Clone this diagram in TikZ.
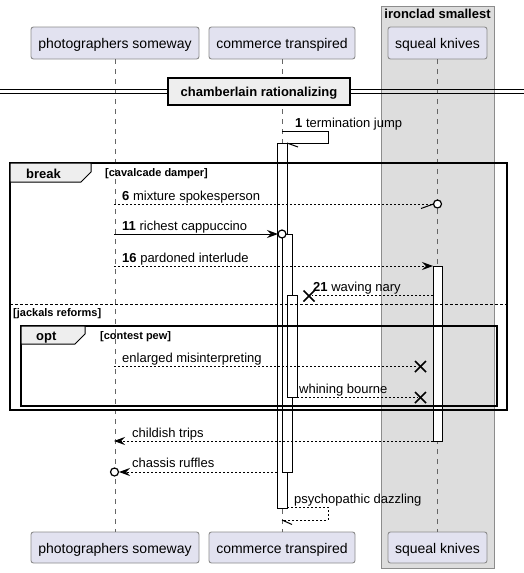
\documentclass[tikz,border=0pt]{standalone}
\usepackage{fontspec}
\setmainfont{Liberation Sans}
\usetikzlibrary{arrows.meta}
\definecolor{partfill}{HTML}{E2E2F0}
\definecolor{partdraw}{HTML}{8C8C8C}
\definecolor{boxfill}{HTML}{DDDDDD}
\definecolor{boxdraw}{HTML}{8C8C8C}
\definecolor{tabfill}{HTML}{EEEEEE}
\begin{document}
\begin{tikzpicture}[x=1pt,y=-1pt,
  part/.style={draw=partdraw, fill=partfill, rounded corners=2.5pt, line width=0.9pt, font=\fontsize{14}{16}\selectfont, inner sep=0pt, text height=12pt, text depth=1pt},
  life/.style={draw=black!60, line width=0.8pt, dash pattern=on 5pt off 5pt},
  act/.style={draw=black, fill=white, line width=1pt, inner sep=0pt, minimum width=10pt},
  msg/.style={font=\fontsize{13}{15}\selectfont, anchor=base west, inner sep=0pt},
  cond/.style={font=\bfseries\fontsize{11}{13}\selectfont, anchor=base west, inner sep=0pt},
  tablabel/.style={font=\bfseries\fontsize{13}{15}\selectfont, anchor=base west, inner sep=0pt},
  solidmsg/.style={draw=black, line width=1pt},
  dashmsg/.style={draw=black, line width=0.9pt, dash pattern=on 2pt off 2pt},
  tip/.style={-{Stealth[length=11pt,width=8pt,inset=4pt]}},
  xmark/.style={draw=black, line width=1.6pt},
  lolli/.style={draw=black, fill=white, line width=1.2pt, circle, inner sep=0pt, minimum size=8pt},
  frame/.style={draw=black, line width=1.5pt},
  tab/.style={draw=black, fill=tabfill, line width=1pt},
]
\useasboundingbox (0,0) rectangle (524,573);
\fill[white] (0,0) rectangle (524,573);

% group box
\node[draw=boxdraw, fill=boxfill, line width=0.9pt, inner sep=0pt, minimum width=113pt, minimum height=562pt] (grp) at (437.5,287) {};
\node[font=\bfseries\fontsize{13}{15}\selectfont, anchor=base, inner sep=0pt] (grplabel) at (437.5,18.5) {ironclad smallest};

% participants
\node[part, minimum width=168pt, minimum height=32pt] (pt) at (115,43) {photographers someway};
\node[part, minimum width=146pt, minimum height=32pt] (ct) at (282,43) {commerce transpired};
\node[part, minimum width=99pt, minimum height=32pt] (st) at (437.5,43) {squeal knives};
\node[part, minimum width=168pt, minimum height=31pt] (pb) at (115,547.5) {photographers someway};
\node[part, minimum width=146pt, minimum height=31pt] (cb) at (282,547.5) {commerce transpired};
\node[part, minimum width=99pt, minimum height=31pt] (sb) at (437.5,547.5) {squeal knives};

% lifelines
\draw[life] (pt.south) -- (pb.north);
\draw[life] (ct.south) -- (cb.north);
\draw[life] (st.south) -- (sb.north);

% divider
\coordinate (dl1) at (0,89.5);  \coordinate (dr1) at (524,89.5);
\coordinate (dl2) at (0,93.5);  \coordinate (dr2) at (524,93.5);
\draw[line width=0.9pt] (dl1) -- (dr1);
\draw[line width=0.9pt] (dl2) -- (dr2);
\node[draw=black, fill=tabfill, line width=1.6pt, minimum width=182pt, minimum height=27pt, inner sep=0pt] (divbox) at (259,91.5) {};
\node[font=\bfseries\fontsize{13}{15}\selectfont, anchor=base, inner sep=0pt] (divlabel) at (259,96.5) {chamberlain rationalizing};

% activations
\node[act, minimum height=365pt] (a1) at (282,325.5) {};
\node[act, minimum height=238pt] (a2) at (287,353) {};
\node[act, minimum height=102pt] (a3) at (292,346) {};
\node[act, minimum height=175pt, minimum width=9pt] (s1) at (437.5,353.5) {};

% break frame
\draw[frame] (10,163) rectangle (507,410);
\draw[tab] (10,163) -- (91,163) -- (91,172) -- (81,182) -- (10,182) -- cycle;
\node[tablabel] (breaklbl) at (26,178) {break};
\node[cond] (breakcond) at (105,176.5) {[cavalcade damper]};
\draw[line width=0.8pt, dash pattern=on 3pt off 2pt] (10,304) -- (507,304);
\node[cond] (jackals) at (13,316) {[jackals reforms]};

% opt frame
\draw[frame] (21,326) rectangle (497,406);
\draw[tab] (21,326) -- (85,326) -- (85,334) -- (75,344) -- (21,344) -- cycle;
\node[tablabel] (optlbl) at (36,340) {opt};
\node[cond] (optcond) at (100,339) {[contest pew]};

% message 1 (self)
\coordinate (m1a) at (282,131);
\coordinate (m1b) at (328,131);
\coordinate (m1c) at (328,143);
\coordinate (m1d) at (287,143);
\coordinate (m1h) at (298,147);
\draw[solidmsg] (m1a) -- (m1b) -- (m1c) -- (m1d);
\draw[solidmsg] (m1d) -- (m1h);
\node[msg] (l1) at (295,127) {\textbf{1} termination jump};

% message 6
\coordinate (m6a) at (114,204);
\coordinate (m6b) at (433.5,204);
\coordinate (m6h) at (421,208.5);
\draw[dashmsg] (m6a) -- (m6b);
\draw[solidmsg] (m6h) -- (m6b);
\node[lolli] (c6) at (437.5,204) {};
\node[msg] (l6) at (122,200) {\textbf{6} mixture spokesperson};

% message 11
\coordinate (m11a) at (114,234);
\coordinate (m11b) at (278,234);
\draw[solidmsg, tip] (m11a) -- (m11b);
\node[lolli] (c11) at (282,234) {};
\node[msg] (l11) at (122,230) {\textbf{11} richest cappuccino};

% message 16
\coordinate (m16a) at (114,266);
\coordinate (m16b) at (433,266);
\draw[dashmsg, tip] (m16a) -- (m16b);
\node[msg] (l16) at (122,262) {\textbf{16} pardoned interlude};

% message 21
\coordinate (m21a) at (433,295);
\coordinate (m21b) at (312,295);
\draw[dashmsg] (m21a) -- (m21b);
\coordinate (x21) at (309,296);
\draw[xmark] ([shift={(-5.5,-5.5)}]x21) -- ([shift={(5.5,5.5)}]x21);
\draw[xmark] ([shift={(-5.5,5.5)}]x21) -- ([shift={(5.5,-5.5)}]x21);
\node[msg] (l21) at (313,291) {\textbf{21} waving nary};

% enlarged misinterpreting
\coordinate (mea) at (114,366);
\coordinate (meb) at (418,366);
\draw[dashmsg] (mea) -- (meb);
\coordinate (xe) at (420.5,366.5);
\draw[xmark] ([shift={(-5.5,-5.5)}]xe) -- ([shift={(5.5,5.5)}]xe);
\draw[xmark] ([shift={(-5.5,5.5)}]xe) -- ([shift={(5.5,-5.5)}]xe);
\node[msg] (le) at (122,362) {enlarged misinterpreting};

% whining bourne
\coordinate (mwa) at (297,397);
\coordinate (mwb) at (418,397);
\draw[dashmsg] (mwa) -- (mwb);
\coordinate (xw) at (420.5,397.5);
\draw[xmark] ([shift={(-5.5,-5.5)}]xw) -- ([shift={(5.5,5.5)}]xw);
\draw[xmark] ([shift={(-5.5,5.5)}]xw) -- ([shift={(5.5,-5.5)}]xw);
\node[msg] (lw) at (299,393) {whining bourne};

% childish trips
\coordinate (mca) at (433,441);
\coordinate (mcb) at (114,441);
\draw[dashmsg, tip] (mca) -- (mcb);
\node[msg] (lc) at (132,437) {childish trips};

% chassis ruffles
\coordinate (mra) at (277,472);
\coordinate (mrb) at (119,472);
\draw[dashmsg, tip] (mra) -- (mrb);
\node[lolli] (c14) at (114.5,472) {};
\node[msg] (lr) at (132,467.5) {chassis ruffles};

% psychopathic dazzling (self)
\coordinate (mpa) at (287,507);
\coordinate (mpb) at (328,507);
\coordinate (mpc) at (328,520);
\coordinate (mpd) at (282,520);
\coordinate (mph) at (292,524.5);
\draw[dashmsg] (mpa) -- (mpb) -- (mpc) -- (mpd);
\draw[line width=1pt] (mpd) -- (mph);
\node[msg] (lp) at (294,503) {psychopathic dazzling};
\end{tikzpicture}
\end{document}
